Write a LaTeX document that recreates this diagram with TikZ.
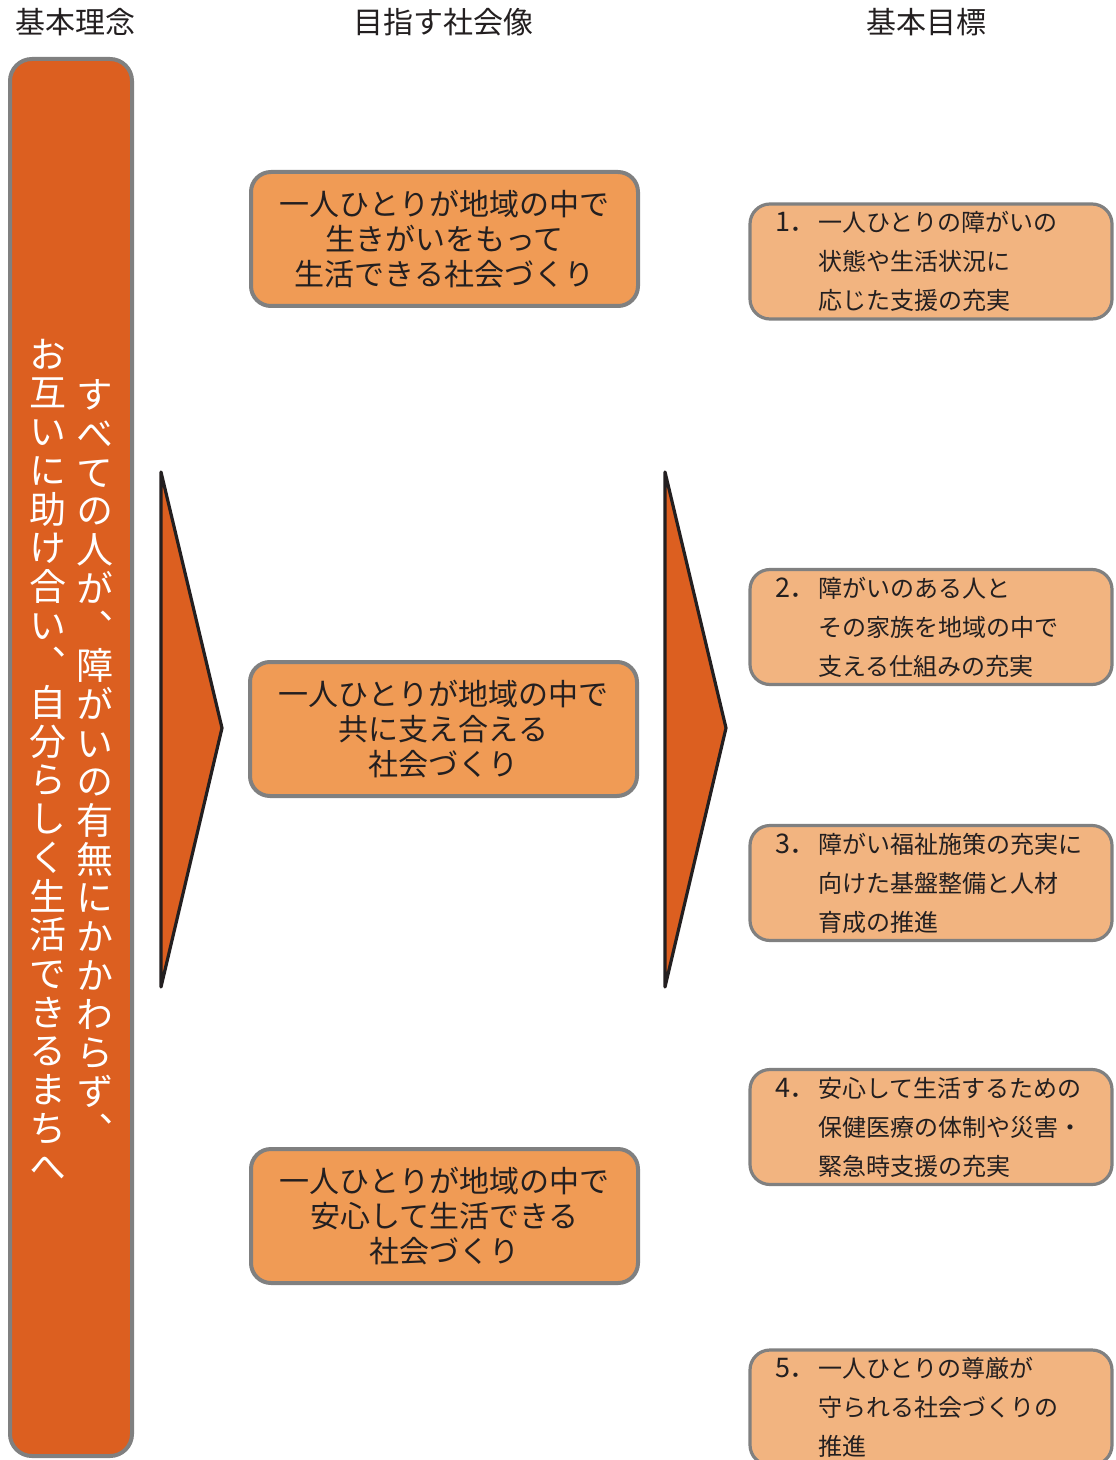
\documentclass[tikz,border=0pt]{standalone}
\usepackage{fontspec}
\setmainfont{Noto Sans CJK JP}
\newfontfamily\vfont[RawFeature=+vert]{Noto Sans CJK JP}
\definecolor{dorange}{RGB}{220,95,32}
\definecolor{morange}{RGB}{240,155,85}
\definecolor{lorange}{RGB}{242,180,128}
\definecolor{bgray}{RGB}{128,128,128}
\definecolor{dk}{RGB}{35,31,32}
\tikzset{
  header/.style={font=\fontsize{15pt}{18pt}\selectfont, text=dk, inner sep=0pt},
  bar/.style={draw=bgray, line width=2pt, fill=dorange, rounded corners=11pt,
    minimum width=61pt, minimum height=698.5pt, inner sep=0pt},
  vcol/.style={font=\vfont\fontsize{18.5pt}{19.35pt}\selectfont, text=white, align=center, inner sep=0pt},
  midbox/.style={draw=bgray, line width=2pt, fill=morange, rounded corners=10pt,
    minimum width=193.5pt, minimum height=67pt, align=center, text=dk,
    font=\fontsize{15pt}{17.5pt}\selectfont, inner sep=0pt},
  goalbox/.style={draw=bgray, line width=1.6pt, fill=lorange, rounded corners=10pt,
    minimum width=181pt, minimum height=57.5pt, text width=156pt, inner xsep=12pt, inner ysep=0pt,
    align=left, text=dk, font=\fontsize{12pt}{19.5pt}\selectfont},
  chev/.style={draw=dk, line width=1.6pt, fill=dorange, line join=round},
}
\newcommand\numlbl[1]{\makebox[21.5pt][l]{\fontsize{13.5pt}{19.5pt}\selectfont #1}}
\newcommand\ind{\hspace*{21.5pt}}
\begin{document}
\begin{tikzpicture}[x=0.5pt,y=-0.5pt]
\useasboundingbox (0,0) rectangle (1115,1460);
\clip (0,0) rectangle (1115,1460);
% headers
\node[header] (h1) at (75,22) {基本理念};
\node[header] (h2) at (443,22) {目指す社会像};
\node[header] (h3) at (926,22) {基本目標};
% left bar
\node[bar] (bar) at (71,757.5) {};
\node[vcol] (v1) at (95,762) {す\\べ\\て\\の\\人\\が\\、\\障\\が\\い\\の\\有\\無\\に\\か\\か\\わ\\ら\\ず\\、};
\node[vcol] (v2) at (48,760) {お\\互\\い\\に\\助\\け\\合\\い\\、\\自\\分\\ら\\し\\く\\生\\活\\で\\き\\る\\ま\\ち\\へ};
% chevrons
\draw[chev] (161,472) -- (222,728) -- (161,987) -- cycle;
\draw[chev] (665,472) -- (726,728) -- (665,987) -- cycle;
% middle boxes
\node[midbox] (m1) at (444.5,239) {一人ひとりが地域の中で\\生きがいをもって\\生活できる社会づくり};
\node[midbox] (m2) at (443.5,729) {一人ひとりが地域の中で\\共に支え合える\\社会づくり};
\node[midbox] (m3) at (444.5,1216) {一人ひとりが地域の中で\\安心して生活できる\\社会づくり};
% goal boxes
\node[goalbox] (g1) at (931,261.5) {\numlbl{1．}一人ひとりの障がいの\\\ind 状態や生活状況に\\\ind 応じた支援の充実};
\node[goalbox] (g2) at (931,627) {\numlbl{2．}障がいのある人と\\\ind その家族を地域の中で\\\ind 支える仕組みの充実};
\node[goalbox] (g3) at (931,883) {\numlbl{3．}障がい福祉施策の充実に\\\ind 向けた基盤整備と人材\\\ind 育成の推進};
\node[goalbox] (g4) at (931,1127) {\numlbl{4．}安心して生活するための\\\ind 保健医療の体制や災害・\\\ind 緊急時支援の充実};
\node[goalbox] (g5) at (931,1407.5) {\numlbl{5．}一人ひとりの尊厳が\\\ind 守られる社会づくりの\\\ind 推進};
\end{tikzpicture}
\end{document}
